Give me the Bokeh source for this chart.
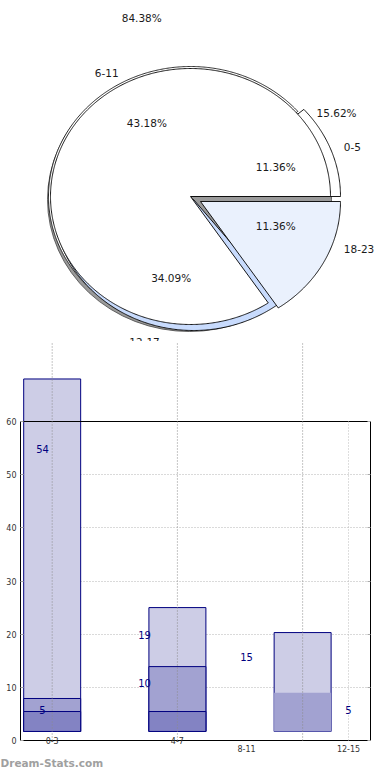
import numpy as np
from bokeh.plotting import figure
from bokeh.models import ColumnDataSource, Range1d, LinearAxis, FixedTicker, Title, Grid
from bokeh.embed import file_html
from bokeh.resources import INLINE
from bokeh.core.properties import value

# ---------------- data ----------------
pie_categories = ["0-5", "6-11", "12-17", "18-23"]
pie_inner_values = [10, 38, 30, 10]
pie_outer_values = [5, 27]

bar_categories = ["0-3", "4-7", "8-11", "12-15"]
bar_label_series_a = [54, 19, 15, 5]
bar_label_series_b = [5, 10]
bar_base = [1.7, 1.7, 1.7]
bar_dark_top = [5.45, 5.45]
bar_mid_top = [7.9, 13.9, 9.0]
bar_light_top = [68.0, 25.0, 20.3]
y_ticks = [0, 10, 20, 30, 40, 50, 60]

# ---------------- layout constants ----------------
W = 390
PIE_H = 341
BAR_H = 439
FNAME = "DejaVu Sans"
FONT = value(FNAME)

RX, RY = 140, 128
EXPL = (10, -5)

inner_total = sum(pie_inner_values)
inner_edges = np.concatenate([[0], np.cumsum(pie_inner_values)]) / inner_total * 360.0
outer_total = sum(pie_outer_values)
outer_frac = [v / outer_total for v in pie_outer_values]
light_start = 360.0 * (1 - outer_frac[0])


def ell_wedge(cx, cy, rx, ry, a0, a1):
    n = max(int(abs(a1 - a0) * 2), 8)
    t = np.radians(np.linspace(a0, a1, n))
    xs = [cx] + list(cx + rx * np.cos(t)) + [cx]
    ys = [cy] + list(cy + ry * np.sin(t)) + [cy]
    return xs, ys


pie = figure(width=W, height=PIE_H, x_range=Range1d(-190, 200), y_range=Range1d(-145, 196),
             output_backend="svg", toolbar_location=None, min_border=0,
             x_axis_type=None, y_axis_type=None)
pie.grid.visible = False
pie.outline_line_color = None

# shadow
pie.ellipse(x=[-1], y=[-3], width=[2 * 142], height=[2 * 132], fill_color="#9a9a9a",
            line_color="#444444", line_width=0.8)
# back ring (rest of outer series)
xs, ys = ell_wedge(0, 0, RX + 2, RY + 2, inner_edges[1], light_start)
pie.patch(xs, ys, fill_color="white", line_color="black", line_width=0.8)
# outer ring slice 0-5
xs, ys = ell_wedge(0, 0, RX + 10, RY + 5, inner_edges[0], inner_edges[1])
pie.patch(xs, ys, fill_color="white", line_color="black", line_width=0.9)
# blue wedge (slightly shifted, shows as a rim and a strip)
xs, ys = ell_wedge(3, -3, RX + 1, RY + 3, inner_edges[2], light_start + 5)
pie.patch(xs, ys, fill_color="#c8dbfd", line_color="black", line_width=0.9)
# main white pie
xs, ys = ell_wedge(0, 0, RX, RY, inner_edges[0], light_start)
pie.patch(xs, ys, fill_color="white", line_color="black", line_width=0.9)
# light blue exploded slice 18-23
xs, ys = ell_wedge(EXPL[0], EXPL[1], RX, RY, light_start, 360.0)
pie.patch(xs, ys, fill_color="#eaf1fd", line_color="black", line_width=0.9)

# labels
mids = np.radians((inner_edges[:-1] + inner_edges[1:]) / 2)
pct_src = ColumnDataSource(dict(
    x=0.65 * RX * np.cos(mids), y=0.65 * RY * np.sin(mids),
    t=["%.2f%%" % (100.0 * v / inner_total) for v in pie_inner_values]))
pie.text(x="x", y="y", text="t", source=pct_src, text_align="center", text_baseline="middle",
         text_font=FONT, text_font_size="10.5px", text_color="#1a1a1a")

right = np.cos(mids) > 0
cat_src = ColumnDataSource(dict(
    x=1.1 * RX * np.cos(mids), y=1.1 * RY * np.sin(mids), t=pie_categories,
    align=["left" if r else "right" for r in right],
    xo=[9 if r else 2 for r in right],
    yo=[max(0.0, -8 * s) for s in np.sin(mids)]))
pie.text(x="x", y="y", text="t", source=cat_src, text_align="align", x_offset="xo", y_offset="yo",
         text_baseline="middle", text_font=FONT, text_font_size="10.5px", text_color="#1a1a1a")

outer_label_angles = np.radians([32, 104])
outer_label_r = [1.23, 1.44]
out_src = ColumnDataSource(dict(
    x=[r * RX * np.cos(a) for r, a in zip(outer_label_r, outer_label_angles)],
    y=[r * RY * np.sin(a) for r, a in zip(outer_label_r, outer_label_angles)],
    t=["%.2f%%" % (100.0 * f) for f in outer_frac]))
pie.text(x="x", y="y", text="t", source=out_src, text_align="center", text_baseline="middle",
         text_font=FONT, text_font_size="10.5px", text_color="#1a1a1a")

# ---------------- bar chart ----------------
bar = figure(width=W, height=BAR_H, x_range=Range1d(-0.2157, 3.2157), y_range=Range1d(-1.13, 75.05),
             output_backend="svg", toolbar_location=None,
             min_border_left=20, min_border_right=20, min_border_top=0, min_border_bottom=34,
             x_axis_type=None, y_axis_type=None)
bar.extra_x_ranges = {"bars": Range1d(-0.253, 2.542)}
bar.outline_line_color = None

bar.add_layout(Grid(dimension=1, ticker=FixedTicker(ticks=y_ticks[1:-1]), grid_line_color="#b5b5b5",
                    grid_line_dash="1 2", grid_line_width=1))

for loc, show in (("left", True), ("right", False)):
    ax = LinearAxis(bounds=(0, 60), ticker=FixedTicker(ticks=y_ticks), major_tick_in=3, major_tick_out=0,
                    minor_tick_line_color=None, major_label_standoff=4, axis_line_color="black",
                    major_tick_line_color="#aaaaaa", major_label_text_font_size="8px",
                    major_label_text_font=FNAME,
                    major_label_text_color="#333333" if show else None)
    bar.add_layout(ax, loc)

xax = LinearAxis(ticker=FixedTicker(ticks=[2, 3]), axis_line_color=None, major_tick_line_color=None,
                 minor_tick_line_color=None, major_label_standoff=-8, major_label_text_font_size="8px",
                 major_label_text_font=FNAME, major_label_text_color="#333333",
                 major_label_overrides={2: bar_categories[2], 3: bar_categories[3]})
bar.add_layout(xax, "below")
# small blank spacer line, then the watermark
bar.add_layout(Title(text=" ", align="left", standoff=0, text_font_size="5px",
                     text_color=None, text_font=FNAME), "below")
bar.add_layout(Title(text="Dream-Stats.com", align="left", offset=-20, standoff=0,
                     text_font_size="10.5px", text_font_style="bold", text_color="#a0a0a0",
                     text_font=FNAME), "below")

idx = list(range(len(bar_light_top)))
bar.vbar(x=idx, width=0.455, bottom=bar_base, top=bar_light_top, x_range_name="bars",
         fill_color="#cdcde6", line_color="#00007f", line_width=1)
mid_lines = ["#00007f" if i < len(bar_dark_top) else None for i in idx]
bar.vbar(x=idx, width=0.455, bottom=bar_base, top=bar_mid_top, x_range_name="bars",
         fill_color="#a2a2d1", line_color=mid_lines, line_width=1)
bar.vbar(x=idx[:len(bar_dark_top)], width=0.455, bottom=bar_base[:len(bar_dark_top)], top=bar_dark_top,
         x_range_name="bars", fill_color="#8383c3", line_color="#00007f", line_width=1)

# frame top/bottom lines
bar.hspan(y=[0, 60], line_color="black", line_width=1)

# vertical grid lines
bar.segment(x0=idx, x1=idx, y0=0, y1=75.05, x_range_name="bars", line_color="#8c8c8c",
            line_dash="1 2", line_width=1)
last = len(bar_categories) - 1
bar.segment(x0=[last], x1=[last], y0=0, y1=60, line_color="#bdbdbd", line_dash="1 2", line_width=1)

# value labels
bar.text(x=list(range(len(bar_label_series_a))), y=bar_label_series_a,
         text=[str(v) for v in bar_label_series_a], text_align="center", text_baseline="middle",
         y_offset=-4, text_font=FONT, text_font_size="10px", text_color="#000080")
bar.text(x=list(range(len(bar_label_series_b))), y=bar_label_series_b,
         text=[str(v) for v in bar_label_series_b], text_align="center", text_baseline="middle",
         y_offset=-4, text_font=FONT, text_font_size="10px", text_color="#000080")

# first category tick labels (drawn on the bar positions)
bar.text(x=[0, 1], y=[0, 0], text=bar_categories[:2], x_range_name="bars", text_align="center",
         text_baseline="middle", text_font=FONT, text_font_size="8px", text_color="#333333")

open("out.html", "w").write(file_html([pie, bar], INLINE))
